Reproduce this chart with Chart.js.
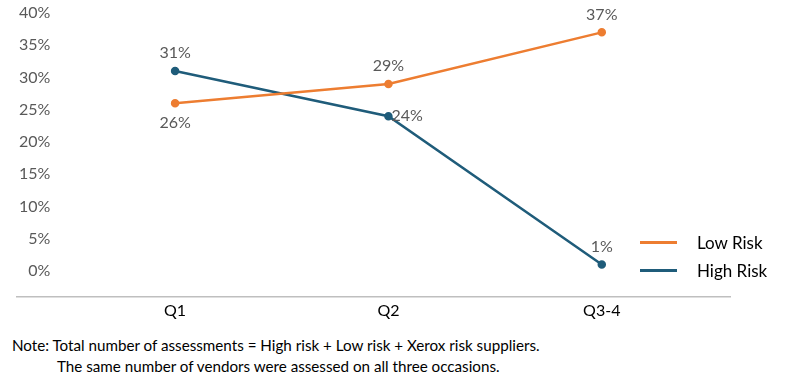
<!DOCTYPE html>
<html>
<head>
<meta charset="utf-8">
<script src="https://cdn.jsdelivr.net/npm/chart.js@4"></script>
<style>
  html, body { margin: 0; padding: 0; background: #fff; }
  #wrap { position: relative; width: 800px; height: 390px; font-family: Lato, "Open Sans", sans-serif; }
  #chartBox { position: absolute; left: 0; top: 0; width: 800px; height: 324px; }
  #legend { position: absolute; left: 640px; top: 228px; font-size: 17px; color: #000; }
  .li { display: flex; align-items: center; height: 28px; }
  .sw { width: 37px; height: 3px; margin-right: 20px; }
  #note { position: absolute; left: 12px; top: 335px; font-size: 15.2px; color: #000; line-height: 21px; }
  #note .l2 { padding-left: 45px; }
</style>
</head>
<body>
<div id="wrap">
  <div id="chartBox"><canvas id="c"></canvas></div>
  <div id="legend"></div>
  <div id="note"><div>Note: Total number of assessments = High risk + Low risk + Xerox risk suppliers.</div><div class="l2">The same number of vendors were assessed on all three occasions.</div></div>
</div>
<script>
const categories = ['Q1', 'Q2', 'Q3-4'];
const lowRisk = [26, 29, 37];
const highRisk = [31, 24, 1];
const yTicks = [0, 5, 10, 15, 20, 25, 30, 35, 40];
// label placement per point: 'above', 'below', 'right'
const lowPos = ['below', 'above', 'above'];
const highPos = ['above', 'right', 'above'];

const orange = '#ED7D31';
const blue = '#1F5C7A';

const labelPlugin = {
  id: 'dataLabels',
  afterDatasetsDraw(chart) {
    const ctx = chart.ctx;
    ctx.save();
    ctx.font = '16px Lato, "Open Sans", sans-serif';
    ctx.fillStyle = '#595959';
    ctx.textBaseline = 'middle';
    chart.data.datasets.forEach((ds, di) => {
      const meta = chart.getDatasetMeta(di);
      meta.data.forEach((pt, i) => {
        const pos = ds.labelPos[i];
        const txt = ds.data[i].y + '%';
        let x = pt.x, y = pt.y;
        if (pos === 'above') { ctx.textAlign = 'center'; y -= 18; }
        else if (pos === 'below') { ctx.textAlign = 'center'; y += 20; }
        else { ctx.textAlign = 'left'; x += 3; y += 0; }
        ctx.fillText(txt, x, y);
      });
    });
    ctx.restore();
  }
};

const chart = new Chart(document.getElementById('c'), {
  type: 'line',
  data: {
    datasets: [
      { label: 'Low Risk', data: lowRisk.map((v, i) => ({ x: i, y: v })), borderColor: orange, backgroundColor: orange,
        borderWidth: 2.5, pointRadius: 3, pointBackgroundColor: orange, pointBorderColor: orange, labelPos: lowPos, tension: 0 },
      { label: 'High Risk', data: highRisk.map((v, i) => ({ x: i, y: v })), borderColor: blue, backgroundColor: blue,
        borderWidth: 2.5, pointRadius: 3, pointBackgroundColor: blue, pointBorderColor: blue, labelPos: highPos, tension: 0 }
    ]
  },
  options: {
    responsive: true,
    maintainAspectRatio: false,
    animation: false,
    layout: { padding: { left: 13, right: 70, top: 13, bottom: 0 } },
    plugins: { legend: { display: false }, tooltip: { enabled: false } },
    scales: {
      x: {
        type: 'linear',
        min: -0.741,
        max: 2.601,
        afterBuildTicks: (s) => { s.ticks = categories.map((c, i) => ({ value: i })); },
        ticks: {
          callback: (v) => categories[v] ?? '',
          font: { size: 16, family: 'Lato, "Open Sans", sans-serif' },
          color: '#000',
          padding: 4,
          maxRotation: 0
        },
        grid: { display: false, drawTicks: false },
        border: { display: true, color: '#BFBFBF', width: 1.5 }
      },
      y: {
        min: -4,
        max: 40,
        afterBuildTicks: (s) => { s.ticks = yTicks.map(v => ({ value: v })); },
        ticks: {
          mirror: true,
          crossAlign: 'far',
          padding: 2,
          callback: (v) => v + '%',
          font: { size: 16, family: 'Lato, "Open Sans", sans-serif' },
          color: '#595959'
        },
        grid: { display: false, drawTicks: false },
        border: { display: false }
      }
    }
  },
  plugins: [labelPlugin]
});

const legendEl = document.getElementById('legend');
chart.data.datasets.forEach(ds => {
  const row = document.createElement('div');
  row.className = 'li';
  const sw = document.createElement('div');
  sw.className = 'sw';
  sw.style.background = ds.borderColor;
  const t = document.createElement('span');
  t.textContent = ds.label;
  row.appendChild(sw); row.appendChild(t);
  legendEl.appendChild(row);
});
</script>
</body>
</html>
